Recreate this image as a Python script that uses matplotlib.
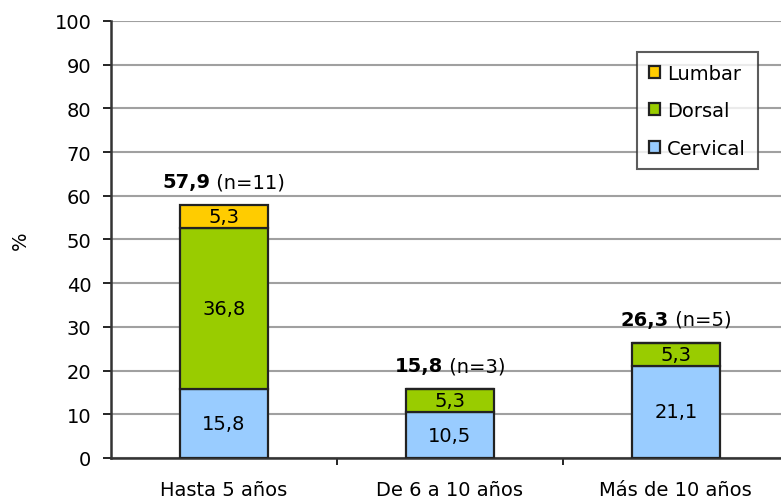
import numpy as np
import matplotlib.pyplot as plt
from matplotlib.offsetbox import TextArea, HPacker, AnnotationBbox

plt.rcParams['font.family'] = ['DejaVu Sans']

grupos = ['Hasta 5 años', 'De 6 a 10 años', 'Más de 10 años']
cervical = [15.8, 10.5, 21.1]
dorsal = [36.8, 5.3, 5.3]
lumbar = [5.3, 0, 0]
totales = ['57,9', '15,8', '26,3']
n_casos = ['(n=11)', '(n=3)', '(n=5)']

c_cerv = '#99CCFF'
c_dors = '#99CC00'
c_lumb = '#FFCC00'
fs = 14

fig = plt.figure(figsize=(7.81, 5.02), dpi=100)
ax = fig.add_axes([0.142, 0.0857, 0.868, 0.8705])

x = np.arange(len(grupos))
w = 0.39
ed = dict(edgecolor='#222222', linewidth=1.6)

b1 = ax.bar(x, cervical, w, color=c_cerv, label='Cervical', zorder=3, **ed)
b2 = ax.bar(x, dorsal, w, bottom=cervical, color=c_dors, label='Dorsal', zorder=3, **ed)
base = np.array(cervical) + np.array(dorsal)
b3 = ax.bar(x, lumbar, w, bottom=base, color=c_lumb, label='Lumbar', zorder=3, **ed)

def fmt(v):
    return ('%.1f' % v).replace('.', ',')

for bars, vals, bottoms in [(b1, cervical, np.zeros(3)), (b2, dorsal, np.array(cervical)), (b3, lumbar, base)]:
    for xi, v, b in zip(x, vals, bottoms):
        if v > 0:
            ax.text(xi, b + v / 2, fmt(v), ha='center', va='center', fontsize=fs, zorder=4)

# totales encima de cada barra
tops = base + np.array(lumbar)
for xi, t, tot, nn in zip(x, tops, totales, n_casos):
    box = HPacker(children=[TextArea(tot, textprops=dict(fontsize=fs, fontweight='bold')),
                            TextArea(' ' + nn, textprops=dict(fontsize=fs))],
                  align='baseline', pad=0, sep=0)
    ab = AnnotationBbox(box, (xi, t), xybox=(0, 10), xycoords='data',
                        boxcoords='offset points', box_alignment=(0.5, 0), frameon=False)
    ax.add_artist(ab)

ax.set_xlim(-0.5, 2.5)
ax.set_ylim(0, 100)
ax.set_yticks(np.arange(0, 101, 10))
ax.yaxis.grid(True, color='#A0A0A0', linewidth=1.5, zorder=0)
ax.set_axisbelow(True)
ax.set_xticks([0.5, 1.5])
ax.set_xticklabels([])
ax.set_xticks(x, minor=True)
ax.set_xticklabels(grupos, minor=True, fontsize=fs)
ax.tick_params(axis='x', which='minor', length=0, pad=16)
ax.tick_params(axis='x', which='major', length=5, width=1.2, direction='out')
ax.tick_params(axis='y', length=6, width=1.2, labelsize=fs, pad=8)

for s in ['top', 'right']:
    ax.spines[s].set_visible(False)
ax.spines['left'].set_linewidth(1.8)
ax.spines['left'].set_color('#333333')
ax.spines['bottom'].set_linewidth(1.8)
ax.spines['bottom'].set_color('#333333')

ax.set_ylabel('%', fontsize=fs, labelpad=18)

leg = ax.legend(handles=[b3, b2, b1], loc='upper right', bbox_to_anchor=(0.954, 0.929),
                borderaxespad=0, fontsize=fs, frameon=True, fancybox=False,
                handlelength=0.6, handleheight=0.6, handletextpad=0.35,
                labelspacing=0.95, borderpad=0.6)
leg.get_frame().set_edgecolor('#333333')
leg.get_frame().set_linewidth(1.5)

fig.savefig('out.png', dpi=100)
